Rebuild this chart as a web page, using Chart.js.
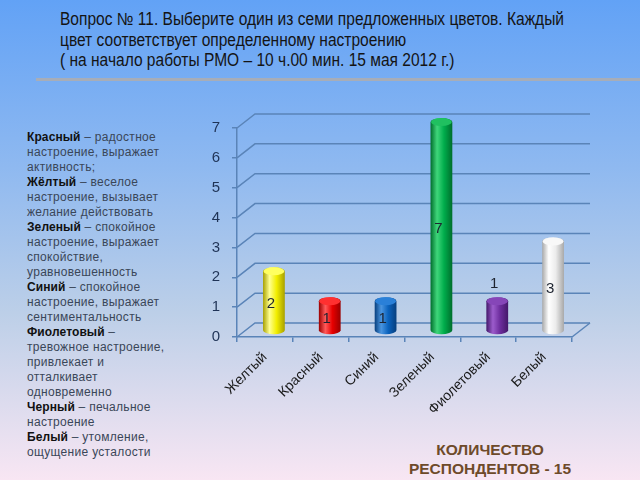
<!DOCTYPE html>
<html lang="ru">
<head>
<meta charset="utf-8">
<script src="https://cdn.jsdelivr.net/npm/chart.js@4.4.1/dist/chart.umd.min.js"></script>
<style>
  html, body { margin: 0; padding: 0; }
  body {
    width: 640px; height: 480px; position: relative; overflow: hidden;
    background: linear-gradient(to bottom, #62a2f6 0%, #8fb9f0 35%, #bccfe8 65%, #f8e6f3 100%);
    font-family: "Liberation Sans", Arial, sans-serif;
  }
  #title {
    position: absolute; left: 60px; top: 9px; white-space: nowrap;
    font-family: "Liberation Sans", Arial, sans-serif;
    font-size: 17.5px; line-height: 20.5px; color: #141414;
    transform-origin: 0 0;
  }
  #rule {
    position: absolute; left: 36px; top: 78px; width: 604px; height: 3px;
    background: #a7adb8;
  }
  #notes {
    position: absolute; left: 27px; top: 130px;
    font-size: 12px; line-height: 15px; letter-spacing: 0.3px; color: #3a4658;
  }
  #notes b { color: #111; letter-spacing: 0.1px; }
  #total {
    position: absolute; left: 390px; top: 440px; width: 200px; text-align: center;
    font-weight: bold; font-size: 15.5px; line-height: 19px; color: #6e4a2a;
  }
  #chart { position: absolute; left: 200px; top: 100px; }
</style>
</head>
<body>
<div id="title"><span id="line1">Вопрос № 11. Выберите один из семи предложенных цветов. Каждый</span><br>цвет соответствует определенному настроению<br>( на начало работы РМО – 10 ч.00 мин. 15 мая 2012 г.)</div>
<div id="rule"></div>
<div id="notes">
<b>Красный</b> – радостное<br>настроение, выражает<br>активность;<br>
<b>Жёлтый</b> – веселое<br>настроение, вызывает<br>желание действовать<br>
<b>Зеленый</b> – спокойное<br>настроение, выражает<br>спокойствие,<br>уравновешенность<br>
<b>Синий</b> – спокойное<br>настроение, выражает<br>сентиментальность<br>
<b>Фиолетовый</b> –<br>тревожное настроение,<br>привлекает и<br>отталкивает<br>одновременно<br>
<b>Черный</b> – печальное<br>настроение<br>
<b>Белый</b> – утомление,<br>ощущение усталости
</div>
<div id="total">КОЛИЧЕСТВО<br>РЕСПОНДЕНТОВ - 15</div>
<canvas id="chart" width="420" height="360"></canvas>
<script>
// Data
const categories = ['Желтый', 'Красный', 'Синий', 'Зеленый', 'Фиолетовый', 'Белый'];
const respondents = [2, 1, 1, 7, 1, 3];
const yTicks = [0, 1, 2, 3, 4, 5, 6, 7];

// Cylinder colours: edge, highlight, body, cap
const barColors = [
    { dark: '#a8a000', light: '#ffff90', base: '#f2ee00', cap: '#ffff60' },
    { dark: '#9a0000', light: '#ff5a5a', base: '#e80000', cap: '#ff3030' },
    { dark: '#073f7e', light: '#4a95e0', base: '#0a62bd', cap: '#2a80d8' },
    { dark: '#006e2c', light: '#3fd67a', base: '#00ad4c', cap: '#20c060' },
    { dark: '#44186a', light: '#9c5ccc', base: '#6e2e9e', cap: '#8646b8' },
    { dark: '#a8a8a8', light: '#ffffff', base: '#ececec', cap: '#f8f8f8' }
];
const labelAbove = [false, false, false, false, true, false];

const gridColor = '#5a84b8';
const DEPTH_X = 18, DEPTH_Y = -14;   // back wall offset
const MID_X = 9, MID_Y = -6;         // bars sit half way in

// narrow title, like the original condensed font
const title = document.getElementById('title');
const w1 = document.getElementById('line1').getBoundingClientRect().width;
title.style.transform = 'scaleX(' + (504 / w1) + ')';

function drawCylinder(ctx, cx, top, base, w, col) {
    const rx = w / 2, ry = 4;
    const left = cx - rx;
    const g = ctx.createLinearGradient(left, 0, left + w, 0);
    g.addColorStop(0, col.dark);
    g.addColorStop(0.3, col.light);
    g.addColorStop(0.62, col.base);
    g.addColorStop(1, col.dark);
    ctx.fillStyle = g;
    ctx.beginPath();
    ctx.moveTo(left, top);
    ctx.lineTo(left, base);
    ctx.ellipse(cx, base, rx, ry, 0, Math.PI, 0, true);
    ctx.lineTo(left + w, top);
    ctx.ellipse(cx, top, rx, ry, 0, 0, Math.PI, true);
    ctx.closePath();
    ctx.fill();
    ctx.fillStyle = col.cap;
    ctx.beginPath();
    ctx.ellipse(cx, top, rx - 0.5, ry, 0, 0, Math.PI * 2);
    ctx.fill();
}

const wallPlugin = {
    id: 'wall',
    beforeDatasetsDraw(chart) {
        const { ctx, chartArea: a, scales: { y } } = chart;
        ctx.save();
        ctx.strokeStyle = gridColor;
        ctx.lineWidth = 1.5;
        yTicks.forEach(v => {
            const py = y.getPixelForValue(v);
            ctx.beginPath();
            ctx.moveTo(a.left, py);
            ctx.lineTo(a.left + DEPTH_X, py + DEPTH_Y);
            ctx.lineTo(a.right + DEPTH_X, py + DEPTH_Y);
            ctx.stroke();
        });
        const y0 = y.getPixelForValue(0);
        ctx.beginPath();
        ctx.moveTo(a.right, y0);
        ctx.lineTo(a.right + DEPTH_X, y0 + DEPTH_Y);
        ctx.stroke();
        ctx.restore();
    },
    afterDatasetsDraw(chart) {
        const { ctx } = chart;
        const meta = chart.getDatasetMeta(0);
        ctx.save();
        meta.data.forEach((bar, i) => {
            const cx = bar.x + MID_X;
            const top = bar.y + MID_Y;
            const base = bar.base + MID_Y;
            drawCylinder(ctx, cx, top, base, bar.width, barColors[i]);
            ctx.fillStyle = '#1e2430';
            ctx.font = '15px "Liberation Sans", Arial, sans-serif';
            ctx.textAlign = 'center';
            ctx.textBaseline = 'middle';
            const ly = labelAbove[i] ? top - 17 : (top + base) / 2 + 3;
            ctx.fillText(String(respondents[i]), cx - 3, ly);
        });
        ctx.restore();
    }
};

new Chart(document.getElementById('chart'), {
    type: 'bar',
    data: {
        labels: categories,
        datasets: [{
            data: respondents,
            backgroundColor: 'rgba(0,0,0,0)',
            borderWidth: 0,
            barPercentage: 0.39,
            categoryPercentage: 1
        }]
    },
    options: {
        responsive: false,
        animation: false,
        layout: { padding: { top: 28, right: 48, left: 0, bottom: 0 } },
        plugins: { legend: { display: false }, tooltip: { enabled: false } },
        scales: {
            y: {
                min: 0, max: 7,
                afterFit: s => { s.width = 37; },
                ticks: {
                    stepSize: 1, padding: 12,
                    color: '#1f3356',
                    font: { size: 15, family: '"Liberation Sans", Arial, sans-serif' }
                },
                grid: { drawOnChartArea: false, tickLength: 5, color: gridColor, lineWidth: 1.5 },
                border: { color: gridColor, width: 1.5 }
            },
            x: {
                afterFit: s => { s.height = 123; },
                ticks: {
                    maxRotation: 45, minRotation: 45, padding: 7,
                    color: '#1a1a1a',
                    font: { size: 14, family: '"Liberation Sans", Arial, sans-serif' }
                },
                grid: { offset: true, drawOnChartArea: false, tickLength: 5, color: gridColor, lineWidth: 1.5 },
                border: { color: gridColor, width: 1.5 }
            }
        }
    },
    plugins: [wallPlugin]
});
</script>
</body>
</html>
